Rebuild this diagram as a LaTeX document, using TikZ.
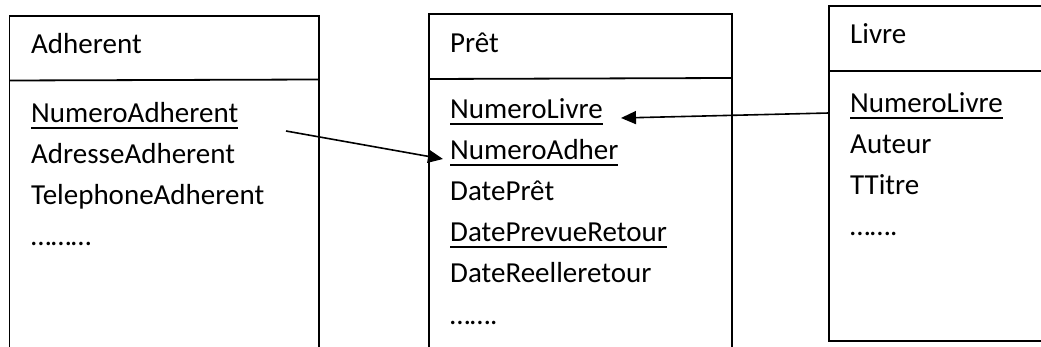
\documentclass[tikz,border=0pt]{standalone}
\usepackage{fontspec}
\setmainfont{Carlito}
\usetikzlibrary{arrows.meta}
\newcommand\keyul[1]{\setbox0\hbox{#1}\rlap{\rule[-6pt]{\wd0}{1.8pt}}\box0}
\begin{document}
\begin{tikzpicture}[x=1pt,y=-1pt,
  txt/.style={anchor=base west, inner sep=0pt, font=\fontsize{29}{35}\selectfont},
  boxline/.style={line width=1.8pt, line join=miter},
  link/.style={line width=1.6pt, -{Triangle[length=15pt,width=13pt]}}]
\useasboundingbox (0,0) rectangle (1041,347);
% Adherent box
\draw[boxline] (9.5,350) -- (9.5,15.7) -- (319,15.7) -- (319,350);
\draw[boxline] (9.5,80.5) -- (319,79.5);
% Pret box
\draw[boxline] (429,350) -- (429,14) -- (732,14) -- (732,350);
\draw[boxline] (429,79) -- (732,78);
% Livre box
\draw[boxline] (1045,5.7) -- (829,5.7) -- (829,341) -- (1045,341);
\draw[boxline] (829,71) -- (1045,71);
% Adherent texts
\node[txt] (at) at (31,54) {Adherent};
\node[txt] (an) at (31,123) {\keyul{NumeroAdherent}};
\node[txt] (aa) at (31,164) {AdresseAdherent};
\node[txt] (ap) at (31,205) {TelephoneAdherent};
\node[txt] (ad) at (31,246) {………};
% Pret texts
\node[txt] (pt) at (450,53) {Prêt};
\node[txt] (pl) at (450,119) {\keyul{NumeroLivre}};
\node[txt] (pa) at (450,160) {\keyul{NumeroAdher}};
\node[txt] (pd) at (450,201) {DatePrêt};
\node[txt] (pv) at (450,242) {\keyul{DatePrevueRetour}};
\node[txt] (pr) at (450,283) {DateReelleretour};
\node[txt] (pe) at (450,324) {…….};
% Livre texts
\node[txt] (lt) at (850,44) {Livre};
\node[txt] (ll) at (850,113) {\keyul{NumeroLivre}};
\node[txt] (la) at (850,154) {Auteur};
\node[txt] (lr) at (850,195) {TTitre};
\node[txt] (le) at (850,236) {…….};
% links
\coordinate (s1) at (286,131);
\coordinate (s2) at (829,113);
\draw[link] (s1) -- ([xshift=-7pt,yshift=1pt]pa.base west);
\draw[link] (s2) -- ([xshift=18pt,yshift=1pt]pl.base east);
\end{tikzpicture}
\end{document}
